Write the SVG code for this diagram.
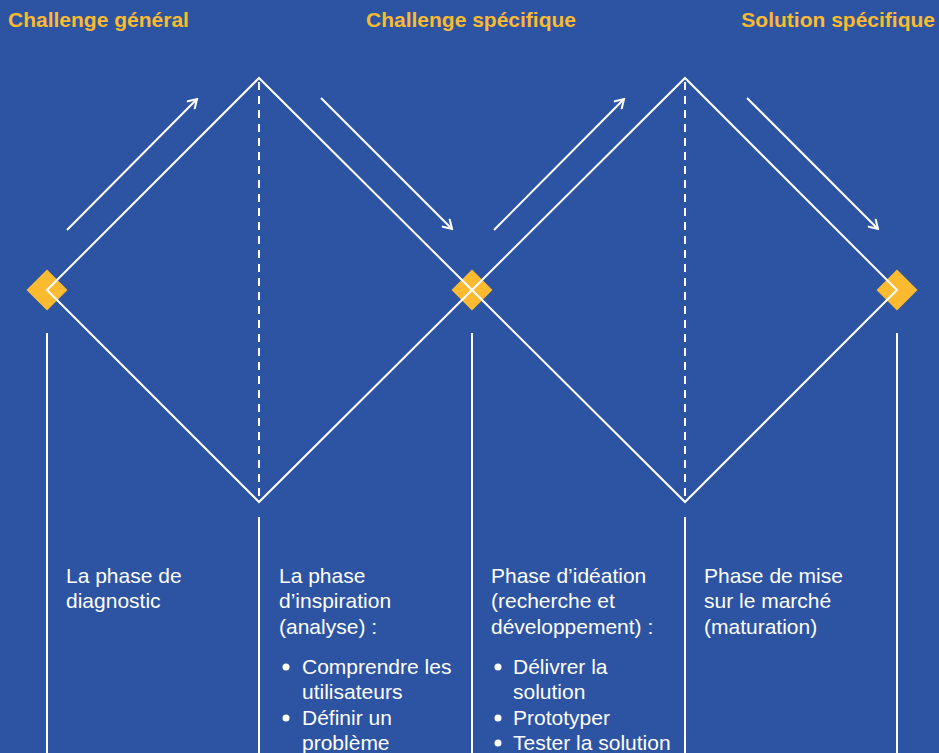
<svg xmlns="http://www.w3.org/2000/svg" width="939" height="753" viewBox="0 0 939 753">
<defs>
<style>
.hd{font-family:"Liberation Sans",Arial,sans-serif;font-weight:bold;font-size:21px;fill:#FBBA2F}
.tx{font-family:"Liberation Sans",Arial,sans-serif;font-size:21px;fill:#ffffff}
.ln{stroke:#ffffff;stroke-width:2;fill:none}
.ds{stroke:#ffffff;stroke-width:2;fill:none;stroke-dasharray:8 6}
.ar{stroke:#ffffff;stroke-width:2;fill:none;marker-end:url(#ah)}
.mk{fill:#FBBA2F}
</style>
<marker id="ah" viewBox="0 0 12 12" refX="10" refY="6" markerWidth="12" markerHeight="12" markerUnits="userSpaceOnUse" orient="auto">
<path d="M1,0.5 L10,6 L1,11.5" fill="none" stroke="#ffffff" stroke-width="2"/>
</marker>
</defs>
<rect width="939" height="753" fill="#2D54A3"/>
<g id="headers">
<text class="hd" x="8" y="27">Challenge général</text>
<text class="hd" x="471" y="27" text-anchor="middle">Challenge spécifique</text>
<text class="hd" x="935" y="27" text-anchor="end">Solution spécifique</text>
</g>
<g id="markers">
<rect id="m1" class="mk" x="32.5" y="275.5" width="29" height="29" transform="rotate(45 47 290)"/>
<rect id="m2" class="mk" x="457.5" y="275.5" width="29" height="29" transform="rotate(45 472 290)"/>
<rect id="m3" class="mk" x="882.5" y="275.5" width="29" height="29" transform="rotate(45 897 290)"/>
</g>
<g id="connectors">
<polygon class="ln" points="47,290 259,78 472,290 259,502"/>
<polygon class="ln" points="472,290 685,78 897,290 685,502"/>
<line class="ds" x1="259" y1="82" x2="259" y2="502"/>
<line class="ds" x1="685" y1="82" x2="685" y2="502"/>
<line class="ar" x1="67" y1="230" x2="197" y2="99"/>
<line class="ar" x1="321" y1="98" x2="452" y2="229"/>
<line class="ar" x1="494" y1="230" x2="624" y2="99"/>
<line class="ar" x1="747" y1="98" x2="878" y2="229"/>
<line class="ln" x1="47" y1="333" x2="47" y2="753"/>
<line class="ln" x1="259" y1="517" x2="259" y2="753"/>
<line class="ln" x1="472" y1="333" x2="472" y2="753"/>
<line class="ln" x1="685" y1="517" x2="685" y2="753"/>
<line class="ln" x1="897" y1="333" x2="897" y2="753"/>
</g>
<g id="col1">
<text class="tx" x="66" y="583">La phase de</text>
<text class="tx" x="66" y="608">diagnostic</text>
</g>
<g id="col2">
<text class="tx" x="279" y="583">La phase</text>
<text class="tx" x="279" y="608">d’inspiration</text>
<text class="tx" x="279" y="634">(analyse) :</text>
<circle cx="286" cy="667" r="3.5" fill="#ffffff"/>
<text class="tx" x="302" y="674">Comprendre les</text>
<text class="tx" x="302" y="699">utilisateurs</text>
<circle cx="286" cy="718" r="3.5" fill="#ffffff"/>
<text class="tx" x="302" y="725">Définir un</text>
<text class="tx" x="302" y="750">problème</text>
</g>
<g id="col3">
<text class="tx" x="491" y="583">Phase d’idéation</text>
<text class="tx" x="491" y="608">(recherche et</text>
<text class="tx" x="491" y="634">développement) :</text>
<circle cx="498" cy="667" r="3.5" fill="#ffffff"/>
<text class="tx" x="513" y="674">Délivrer la</text>
<text class="tx" x="513" y="699">solution</text>
<circle cx="498" cy="718" r="3.5" fill="#ffffff"/>
<text class="tx" x="513" y="725">Prototyper</text>
<circle cx="498" cy="743" r="3.5" fill="#ffffff"/>
<text class="tx" x="513" y="750">Tester la solution</text>
</g>
<g id="col4">
<text class="tx" x="704" y="583">Phase de mise</text>
<text class="tx" x="704" y="608">sur le marché</text>
<text class="tx" x="704" y="634">(maturation)</text>
</g>
</svg>
